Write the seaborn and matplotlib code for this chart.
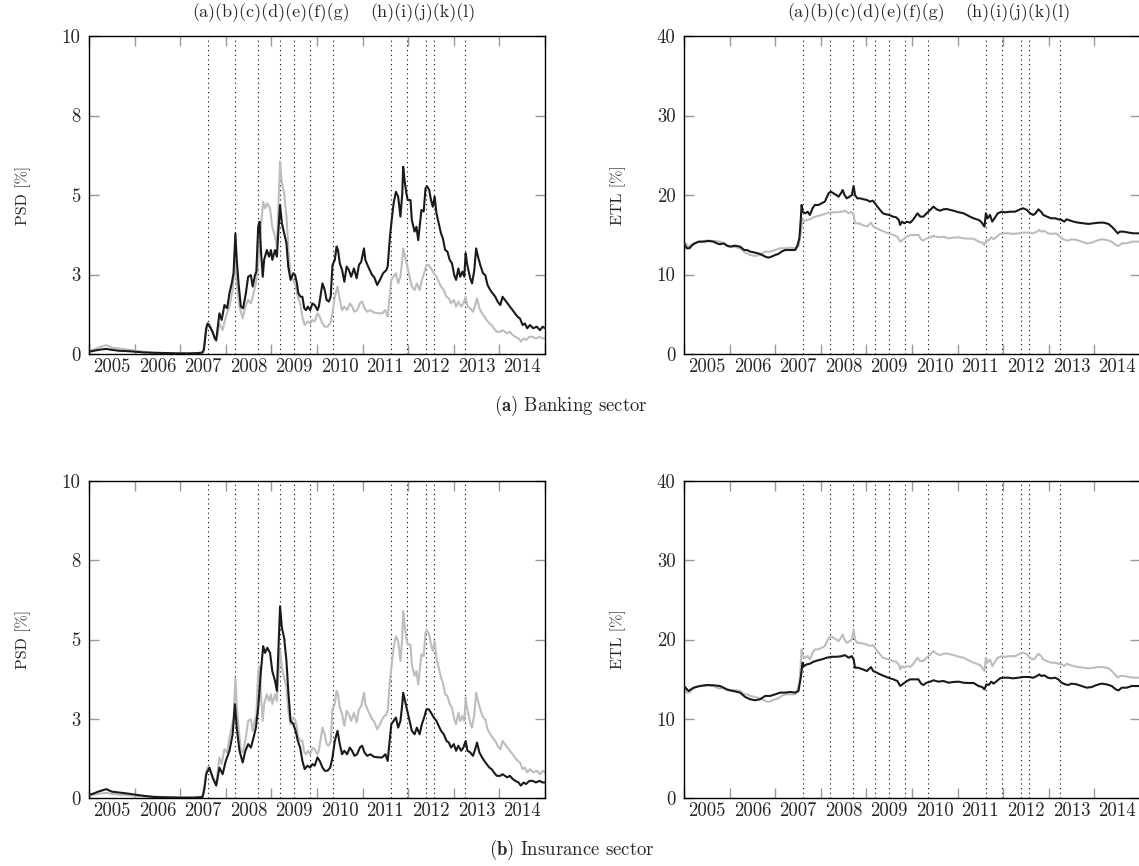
import numpy as np
import pandas as pd
import matplotlib
matplotlib.use("Agg")
import matplotlib.pyplot as plt
import seaborn as sns

# ---------------- data ----------------
psd_bank_t = [2005.00, 2005.10, 2005.25, 2005.38, 2005.50, 2005.67, 2005.85, 2006.04, 2006.20, 2006.40,
              2006.70, 2006.98, 2007.20, 2007.40, 2007.49, 2007.52, 2007.57, 2007.60, 2007.65, 2007.71,
              2007.76, 2007.79, 2007.86, 2007.91, 2007.97, 2008.03, 2008.08, 2008.13, 2008.17, 2008.21,
              2008.24, 2008.28, 2008.33, 2008.38, 2008.44, 2008.49, 2008.55, 2008.59, 2008.64, 2008.67,
              2008.71, 2008.74, 2008.77, 2008.81, 2008.84, 2008.90, 2008.95, 2008.99, 2009.02, 2009.08,
              2009.12, 2009.15, 2009.19, 2009.23, 2009.28, 2009.33, 2009.37, 2009.42, 2009.48, 2009.52,
              2009.56, 2009.59, 2009.64, 2009.68, 2009.72, 2009.76, 2009.80, 2009.85, 2009.90, 2009.95,
              2010.01, 2010.04, 2010.12, 2010.17, 2010.21, 2010.26, 2010.30, 2010.34, 2010.39, 2010.43,
              2010.46, 2010.50, 2010.55, 2010.60, 2010.65, 2010.70, 2010.75, 2010.81, 2010.87, 2010.92,
              2010.97, 2011.03, 2011.06, 2011.14, 2011.21, 2011.25, 2011.32, 2011.38, 2011.45, 2011.52,
              2011.55, 2011.60, 2011.63, 2011.68, 2011.73, 2011.78, 2011.83, 2011.87, 2011.89, 2011.92,
              2011.96, 2011.99, 2012.05, 2012.08, 2012.14, 2012.18, 2012.22, 2012.25, 2012.29, 2012.34,
              2012.38, 2012.41, 2012.46, 2012.50, 2012.54, 2012.58, 2012.62, 2012.67, 2012.72, 2012.76,
              2012.81, 2012.86, 2012.91, 2012.96, 2013.01, 2013.05, 2013.10, 2013.14, 2013.19, 2013.23,
              2013.26, 2013.29, 2013.32, 2013.36, 2013.40, 2013.45, 2013.49, 2013.54, 2013.58, 2013.64,
              2013.69, 2013.74, 2013.80, 2013.85, 2013.91, 2013.96, 2014.02, 2014.07, 2014.12, 2014.18,
              2014.23, 2014.29, 2014.34, 2014.40, 2014.45, 2014.51, 2014.56, 2014.61, 2014.67, 2014.74,
              2014.82, 2014.89, 2014.95, 2015.00]
psd_bank_v = [0.07, 0.10, 0.14, 0.16, 0.13, 0.10, 0.09, 0.07, 0.05, 0.04,
              0.03, 0.02, 0.02, 0.03, 0.05, 0.13, 0.81, 0.96, 0.86, 0.70,
              0.49, 0.44, 1.28, 1.07, 1.54, 1.44, 1.91, 2.22, 2.54, 3.79,
              2.96, 2.22, 1.49, 1.44, 1.91, 2.43, 2.48, 2.12, 2.48, 2.59,
              4.00, 4.16, 3.27, 2.43, 2.96, 3.27, 3.06, 3.27, 2.96, 3.27,
              3.06, 3.79, 4.69, 4.11, 3.79, 3.48, 2.75, 2.33, 2.54, 2.48,
              2.22, 1.91, 1.80, 1.80, 1.44, 1.38, 1.49, 1.38, 1.59, 1.54,
              1.38, 1.49, 2.22, 2.01, 1.70, 1.65, 1.80, 2.80, 2.96, 3.38,
              3.27, 2.85, 2.64, 2.27, 2.75, 2.64, 2.43, 2.69, 2.38, 2.80,
              2.90, 3.32, 2.96, 2.69, 2.48, 2.43, 2.17, 2.33, 2.54, 2.64,
              2.75, 3.69, 4.11, 4.74, 5.10, 4.95, 4.32, 5.05, 5.89, 5.47,
              5.05, 4.84, 4.84, 4.21, 3.85, 4.00, 3.58, 4.00, 4.53, 4.48,
              5.21, 5.28, 5.16, 4.84, 4.63, 4.95, 4.42, 4.11, 3.79, 3.64,
              3.27, 3.22, 2.96, 2.85, 2.48, 2.33, 2.69, 2.43, 2.59, 2.43,
              3.17, 2.85, 2.64, 2.38, 2.22, 2.64, 3.32, 3.01, 2.80, 2.54,
              2.48, 2.17, 2.01, 1.91, 1.80, 1.65, 1.54, 1.80, 1.70, 1.59,
              1.49, 1.38, 1.28, 1.17, 1.12, 0.91, 0.96, 0.81, 0.91, 0.81,
              0.86, 0.75, 0.86, 0.81]

psd_ins_t = [2005.00, 2005.10, 2005.20, 2005.38, 2005.50, 2005.67, 2005.85, 2006.04, 2006.25, 2006.45,
             2006.70, 2007.00, 2007.30, 2007.49, 2007.53, 2007.57, 2007.64, 2007.71, 2007.79, 2007.86,
             2007.93, 2008.00, 2008.08, 2008.15, 2008.20, 2008.24, 2008.30, 2008.37, 2008.43, 2008.49,
             2008.55, 2008.61, 2008.66, 2008.71, 2008.77, 2008.82, 2008.86, 2008.91, 2008.97, 2009.02,
             2009.08, 2009.12, 2009.15, 2009.19, 2009.23, 2009.28, 2009.33, 2009.37, 2009.42, 2009.48,
             2009.53, 2009.58, 2009.63, 2009.68, 2009.73, 2009.79, 2009.85, 2009.90, 2009.95, 2010.01,
             2010.06, 2010.12, 2010.17, 2010.23, 2010.29, 2010.34, 2010.39, 2010.45, 2010.50, 2010.55,
             2010.60, 2010.66, 2010.72, 2010.77, 2010.82, 2010.88, 2010.94, 2010.99, 2011.04, 2011.10,
             2011.17, 2011.25, 2011.36, 2011.43, 2011.50, 2011.55, 2011.60, 2011.63, 2011.68, 2011.73,
             2011.78, 2011.83, 2011.87, 2011.89, 2011.93, 2011.98, 2012.03, 2012.08, 2012.14, 2012.19,
             2012.25, 2012.30, 2012.35, 2012.40, 2012.45, 2012.50, 2012.56, 2012.62, 2012.67, 2012.72,
             2012.78, 2012.84, 2012.89, 2012.94, 2013.00, 2013.05, 2013.10, 2013.16, 2013.21, 2013.26,
             2013.30, 2013.36, 2013.42, 2013.47, 2013.51, 2013.56, 2013.62, 2013.67, 2013.72, 2013.78,
             2013.83, 2013.88, 2013.94, 2014.02, 2014.07, 2014.12, 2014.17, 2014.23, 2014.29, 2014.35,
             2014.42, 2014.47, 2014.53, 2014.58, 2014.66, 2014.73, 2014.80, 2014.88, 2014.95, 2015.00]
psd_ins_v = [0.10, 0.14, 0.20, 0.28, 0.20, 0.17, 0.14, 0.10, 0.06, 0.03,
             0.02, 0.01, 0.01, 0.03, 0.30, 0.75, 0.96, 0.65, 0.39, 0.96,
             0.75, 1.17, 1.49, 2.01, 2.96, 2.22, 1.49, 1.12, 1.49, 1.70,
             1.59, 1.91, 2.22, 2.85, 4.00, 4.79, 4.58, 4.74, 4.58, 4.00,
             3.69, 3.38, 4.53, 6.05, 5.37, 5.05, 4.32, 3.38, 2.43, 2.33,
             2.12, 1.80, 1.59, 1.17, 0.91, 1.02, 0.96, 1.07, 1.02, 1.28,
             1.17, 0.96, 0.86, 0.86, 0.96, 1.28, 1.80, 2.12, 1.70, 1.38,
             1.49, 1.38, 1.59, 1.49, 1.33, 1.38, 1.59, 1.65, 1.44, 1.33,
             1.38, 1.30, 1.28, 1.28, 1.38, 1.17, 1.91, 2.33, 2.43, 2.54,
             2.22, 2.43, 2.96, 3.32, 3.06, 2.75, 2.43, 2.12, 2.01, 2.22,
             2.01, 2.33, 2.54, 2.80, 2.80, 2.69, 2.54, 2.43, 2.27, 2.12,
             2.01, 1.80, 1.75, 1.59, 1.70, 1.49, 1.65, 1.49, 1.59, 1.80,
             1.49, 1.44, 1.33, 1.54, 1.75, 1.44, 1.28, 1.17, 1.07, 0.96,
             0.91, 0.81, 0.70, 0.70, 0.75, 0.70, 0.65, 0.70, 0.60, 0.54,
             0.49, 0.39, 0.49, 0.44, 0.54, 0.54, 0.49, 0.54, 0.49, 0.49]

etl_bank_t = [2005.00, 2005.06, 2005.12, 2005.18, 2005.24, 2005.32, 2005.43, 2005.54, 2005.65, 2005.72,
              2005.79, 2005.87, 2005.94, 2006.01, 2006.12, 2006.23, 2006.32, 2006.38, 2006.45, 2006.56,
              2006.67, 2006.78, 2006.85, 2006.92, 2007.00, 2007.07, 2007.14, 2007.22, 2007.33, 2007.44,
              2007.49, 2007.53, 2007.56, 2007.58, 2007.60, 2007.66, 2007.71, 2007.76, 2007.82, 2007.87,
              2007.95, 2008.02, 2008.09, 2008.17, 2008.22, 2008.28, 2008.34, 2008.39, 2008.44, 2008.48,
              2008.52, 2008.57, 2008.63, 2008.68, 2008.72, 2008.75, 2008.80, 2008.86, 2008.94, 2009.01,
              2009.08, 2009.14, 2009.19, 2009.24, 2009.30, 2009.36, 2009.43, 2009.50, 2009.58, 2009.65,
              2009.71, 2009.74, 2009.78, 2009.83, 2009.89, 2009.96, 2010.02, 2010.07, 2010.12, 2010.18,
              2010.25, 2010.32, 2010.40, 2010.47, 2010.54, 2010.62, 2010.69, 2010.76, 2010.84, 2010.91,
              2010.98, 2011.06, 2011.13, 2011.20, 2011.27, 2011.35, 2011.42, 2011.49, 2011.54, 2011.59,
              2011.62, 2011.66, 2011.71, 2011.76, 2011.81, 2011.88, 2011.97, 2012.04, 2012.15, 2012.26,
              2012.37, 2012.44, 2012.52, 2012.59, 2012.66, 2012.71, 2012.77, 2012.83, 2012.88, 2012.96,
              2013.05, 2013.14, 2013.21, 2013.28, 2013.34, 2013.39, 2013.47, 2013.54, 2013.65, 2013.76,
              2013.87, 2013.98, 2014.09, 2014.20, 2014.31, 2014.38, 2014.45, 2014.51, 2014.56, 2014.64,
              2014.75, 2014.86, 2015.00]
etl_bank_v = [13.92, 13.30, 13.30, 13.70, 13.92, 14.13, 14.13, 14.22, 14.13, 13.92,
              13.80, 13.92, 13.63, 13.50, 13.63, 13.50, 13.08, 13.08, 12.88, 12.75,
              12.58, 12.25, 12.12, 12.25, 12.46, 12.58, 12.88, 13.08, 13.08, 13.08,
              13.70, 14.55, 16.86, 18.75, 17.90, 17.70, 17.90, 17.49, 18.33, 18.75,
              18.75, 18.96, 19.17, 20.21, 20.42, 20.21, 20.00, 19.79, 20.21, 20.63,
              20.00, 19.58, 19.79, 20.00, 21.14, 20.00, 19.58, 19.58, 19.46, 19.37,
              19.17, 19.29, 18.96, 18.54, 18.12, 17.70, 17.57, 17.49, 17.28, 17.20,
              16.86, 16.23, 16.65, 16.44, 16.65, 16.52, 16.86, 17.28, 17.70, 17.28,
              17.28, 17.70, 18.12, 18.54, 18.20, 18.03, 18.20, 18.24, 18.12, 18.03,
              17.90, 17.78, 17.70, 17.49, 17.28, 17.07, 16.94, 16.78, 16.44, 16.02,
              17.70, 17.07, 17.49, 16.65, 17.07, 17.70, 17.90, 17.82, 17.90, 17.90,
              18.20, 18.33, 18.12, 17.70, 17.49, 17.70, 18.20, 17.90, 17.49, 17.28,
              17.07, 17.07, 16.94, 16.86, 16.65, 16.94, 16.78, 16.65, 16.52, 16.44,
              16.36, 16.44, 16.52, 16.52, 16.36, 16.02, 15.60, 15.18, 15.39, 15.39,
              15.27, 15.18, 15.18]

etl_ins_t = [2005.00, 2005.10, 2005.21, 2005.35, 2005.50, 2005.65, 2005.79, 2005.94, 2006.08, 2006.23,
             2006.34, 2006.45, 2006.56, 2006.67, 2006.78, 2006.89, 2007.00, 2007.11, 2007.22, 2007.33,
             2007.44, 2007.51, 2007.56, 2007.60, 2007.63, 2007.69, 2007.76, 2007.84, 2007.93, 2008.02,
             2008.13, 2008.24, 2008.35, 2008.46, 2008.53, 2008.61, 2008.68, 2008.72, 2008.75, 2008.82,
             2008.92, 2009.01, 2009.10, 2009.15, 2009.23, 2009.30, 2009.39, 2009.48, 2009.59, 2009.68,
             2009.74, 2009.81, 2009.89, 2009.96, 2010.07, 2010.14, 2010.20, 2010.25, 2010.32, 2010.40,
             2010.47, 2010.58, 2010.69, 2010.80, 2010.91, 2011.02, 2011.13, 2011.24, 2011.35, 2011.46,
             2011.54, 2011.59, 2011.63, 2011.68, 2011.74, 2011.79, 2011.86, 2011.93, 2012.01, 2012.11,
             2012.22, 2012.33, 2012.44, 2012.55, 2012.66, 2012.74, 2012.79, 2012.84, 2012.90, 2012.98,
             2013.05, 2013.14, 2013.21, 2013.28, 2013.36, 2013.43, 2013.50, 2013.61, 2013.72, 2013.83,
             2013.94, 2014.05, 2014.16, 2014.27, 2014.38, 2014.47, 2014.53, 2014.60, 2014.71, 2014.82,
             2014.93, 2015.00]
etl_ins_v = [14.13, 13.50, 13.92, 14.13, 14.26, 14.22, 14.13, 13.70, 13.50, 13.30,
             12.75, 12.46, 12.33, 12.46, 12.88, 12.88, 13.08, 13.30, 13.30, 13.38,
             13.30, 13.50, 15.18, 17.07, 16.65, 16.86, 16.94, 17.20, 17.36, 17.49,
             17.70, 17.82, 17.82, 17.90, 18.03, 17.70, 17.90, 17.49, 16.44, 16.44,
             16.23, 16.02, 16.52, 16.02, 15.81, 15.60, 15.39, 15.18, 14.97, 14.76,
             14.13, 14.43, 14.76, 14.97, 14.97, 14.97, 14.43, 14.26, 14.55, 14.68,
             14.85, 14.68, 14.76, 14.55, 14.64, 14.68, 14.55, 14.51, 14.51, 14.13,
             14.00, 13.70, 14.34, 14.26, 14.68, 14.43, 14.76, 15.10, 15.18, 15.18,
             15.10, 15.18, 15.27, 15.27, 15.18, 15.39, 15.60, 15.39, 15.48, 15.18,
             15.10, 15.18, 14.97, 14.55, 14.34, 14.26, 14.43, 14.34, 14.13, 13.92,
             14.00, 14.26, 14.43, 14.34, 14.13, 13.70, 13.58, 13.92, 13.92, 14.13,
             14.13, 14.13]

event_dates = [2007.60, 2008.21, 2008.71, 2009.19, 2009.50, 2009.85, 2010.34,
               2011.63, 2011.98, 2012.40, 2012.56, 2013.25]
event_labels_1 = "(a)(b)(c)(d)(e)(f)(g)"
event_labels_2 = "(h)(i)(j)(k)(l)"
years = list(range(2005, 2015))
psd_ticks = [0, 2.5, 5, 7.5, 10]
psd_ticklabels = ["0", "3", "5", "8", "10"]
etl_ticks = [0, 10, 20, 30, 40]
etl_ticklabels = ["0", "10", "20", "30", "40"]
captions = [r"$\mathbf{(a)}$ Banking sector", r"$\mathbf{(b)}$ Insurance sector"]

# ---------------- style ----------------
sns.set_style("white")
plt.rcParams["font.family"] = ["cmr10", "DejaVu Serif"]
plt.rcParams["mathtext.fontset"] = "cm"
plt.rcParams["axes.formatter.use_mathtext"] = True

BLACK = "#1a1a1a"
GRAY = "#bdbdbd"
TICKC = "#9a9a9a"
TICK_FS = 13.5
EVENT_FS = 13
YLAB_FS = 11.5
CAP_FS = 13.5

fig = plt.figure(figsize=(11.39, 8.66), dpi=100)
W, H = 1139.0, 866.0

def add_ax(left, top, right, bottom):
    return fig.add_axes([left / W, 1 - bottom / H, (right - left) / W, (bottom - top) / H])

ax_tl = add_ax(89, 36, 545, 354)
ax_tr = add_ax(684, 36, 1140, 354)
ax_bl = add_ax(89, 481, 545, 798)
ax_br = add_ax(684, 481, 1140, 798)

psd_bank = pd.DataFrame({"t": psd_bank_t, "v": psd_bank_v})
psd_ins = pd.DataFrame({"t": psd_ins_t, "v": psd_ins_v})
etl_bank = pd.DataFrame({"t": etl_bank_t, "v": etl_bank_v})
etl_ins = pd.DataFrame({"t": etl_ins_t, "v": etl_ins_v})

panels = [
    (ax_tl, psd_ins, psd_bank, "PSD [%]", psd_ticks, psd_ticklabels, 10, True),
    (ax_tr, etl_ins, etl_bank, "ETL [%]", etl_ticks, etl_ticklabels, 40, True),
    (ax_bl, psd_bank, psd_ins, "PSD [%]", psd_ticks, psd_ticklabels, 10, False),
    (ax_br, etl_bank, etl_ins, "ETL [%]", etl_ticks, etl_ticklabels, 40, False),
]

for ax, gray_df, black_df, ylab, yt, ytl, ymax, show_events in panels:
    for d in event_dates:
        ax.axvline(d, color="black", lw=0.8, ls=(0, (1, 3.2)), zorder=1)
    sns.lineplot(data=gray_df, x="t", y="v", ax=ax, color=GRAY, lw=1.5, zorder=2, estimator=None)
    sns.lineplot(data=black_df, x="t", y="v", ax=ax, color=BLACK, lw=1.5, zorder=3, estimator=None)
    ax.set_xlim(2005, 2015)
    ax.set_ylim(0, ymax)
    ax.set_xticks(list(range(2005, 2016)))
    ax.set_xticklabels([])
    ax.set_xticks([y + 0.5 for y in years], minor=True)
    ax.set_xticklabels([str(y) for y in years], minor=True, fontsize=TICK_FS)
    ax.tick_params(axis="x", which="minor", length=0, pad=3)
    ax.tick_params(axis="x", which="major", direction="in", length=7, width=1,
                   color=TICKC, top=True, bottom=True)
    ax.set_yticks(yt)
    ax.set_yticklabels(ytl, fontsize=TICK_FS)
    ax.tick_params(axis="y", which="major", direction="in", length=7, width=1,
                   color=TICKC, left=True, right=True, pad=6)
    ax.set_xlabel("")
    ax.set_ylabel(ylab, fontsize=YLAB_FS, labelpad=22)
    for s in ax.spines.values():
        s.set_color("black")
        s.set_linewidth(1.0)
    if show_events:
        ax.text(2009.0, 1.045, event_labels_1, transform=ax.get_xaxis_transform(),
                ha="center", va="bottom", fontsize=EVENT_FS)
        ax.text(2012.33, 1.045, event_labels_2, transform=ax.get_xaxis_transform(),
                ha="center", va="bottom", fontsize=EVENT_FS)

fig.text(571 / W, 1 - 406 / H, captions[0], ha="center", va="center", fontsize=CAP_FS)
fig.text(572 / W, 1 - 850 / H, captions[1], ha="center", va="center", fontsize=CAP_FS)

fig.savefig("out.png", dpi=100)
